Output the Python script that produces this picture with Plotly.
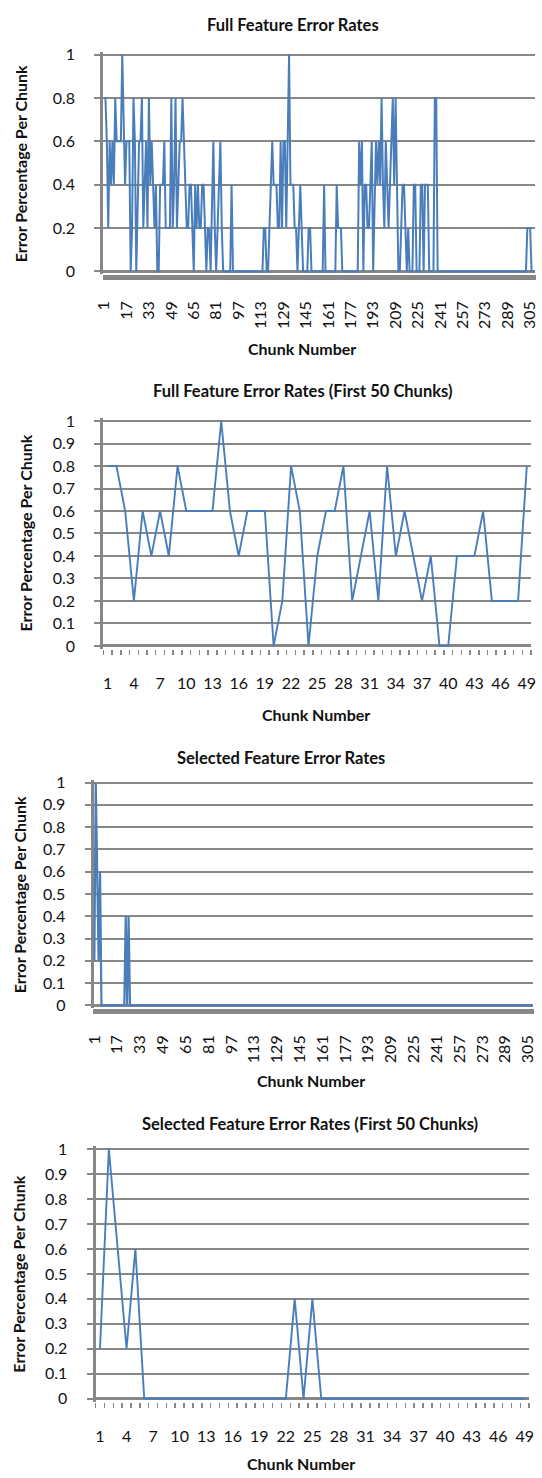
import plotly.graph_objects as go

# ---------------- data ----------------
chunks_all = list(range(1, 309))          # chunk numbers 1..308
chunks_first = list(range(1, 50))         # chunk numbers 1..49

full_rates = [
    0.8, 0.8, 0.6, 0.2, 0.6, 0.4, 0.6, 0.4, 0.8, 0.6,
    0.6, 0.6, 0.6, 1.0, 0.6, 0.4, 0.6, 0.6, 0.6, 0.0,
    0.2, 0.8, 0.6, 0.0, 0.4, 0.6, 0.6, 0.8, 0.2, 0.4,
    0.6, 0.2, 0.8, 0.4, 0.6, 0.4, 0.2, 0.4, 0.0, 0.0,
    0.4, 0.4, 0.4, 0.6, 0.2, 0.2, 0.2, 0.2, 0.8, 0.2,
    0.4, 0.8, 0.2, 0.4, 0.6, 0.6, 0.8, 0.6, 0.4, 0.2,
    0.2, 0.4, 0.4, 0.2, 0.0, 0.4, 0.2, 0.4, 0.2, 0.2,
    0.4, 0.4, 0.2, 0.0, 0.2, 0.2, 0.0, 0.4, 0.6, 0.2,
    0.0, 0.2, 0.4, 0.6, 0.2, 0.0, 0.0, 0.0, 0.0, 0.0,
    0.0, 0.4, 0.0, 0.0, 0.0, 0.0, 0.0, 0.0, 0.0, 0.0,
    0.0, 0.0, 0.0, 0.0, 0.0, 0.0, 0.0, 0.0, 0.0, 0.0,
    0.0, 0.0, 0.0, 0.0, 0.2, 0.2, 0.0, 0.0, 0.2, 0.4,
    0.6, 0.4, 0.4, 0.4, 0.2, 0.2, 0.6, 0.2, 0.6, 0.6,
    0.2, 0.6, 1.0, 0.4, 0.4, 0.4, 0.2, 0.2, 0.0, 0.2,
    0.4, 0.2, 0.0, 0.0, 0.0, 0.0, 0.2, 0.2, 0.0, 0.0,
    0.0, 0.0, 0.0, 0.0, 0.0, 0.0, 0.0, 0.4, 0.0, 0.0,
    0.0, 0.0, 0.0, 0.0, 0.0, 0.0, 0.4, 0.2, 0.2, 0.2,
    0.0, 0.0, 0.0, 0.0, 0.0, 0.0, 0.0, 0.0, 0.0, 0.0,
    0.0, 0.0, 0.6, 0.4, 0.6, 0.0, 0.4, 0.4, 0.2, 0.2,
    0.4, 0.6, 0.0, 0.4, 0.6, 0.4, 0.6, 0.4, 0.8, 0.4,
    0.2, 0.6, 0.4, 0.2, 0.4, 0.6, 0.8, 0.4, 0.8, 0.4,
    0.0, 0.0, 0.2, 0.4, 0.4, 0.2, 0.0, 0.2, 0.0, 0.0,
    0.0, 0.4, 0.4, 0.0, 0.0, 0.0, 0.4, 0.4, 0.0, 0.4,
    0.4, 0.4, 0.0, 0.0, 0.0, 0.0, 0.8, 0.8, 0.0, 0.0,
    0.0, 0.0, 0.0, 0.0, 0.0, 0.0, 0.0, 0.0, 0.0, 0.0,
    0.0, 0.0, 0.0, 0.0, 0.0, 0.0, 0.0, 0.0, 0.0, 0.0,
    0.0, 0.0, 0.0, 0.0, 0.0, 0.0, 0.0, 0.0, 0.0, 0.0,
    0.0, 0.0, 0.0, 0.0, 0.0, 0.0, 0.0, 0.0, 0.0, 0.0,
    0.0, 0.0, 0.0, 0.0, 0.0, 0.0, 0.0, 0.0, 0.0, 0.0,
    0.0, 0.0, 0.0, 0.0, 0.0, 0.0, 0.0, 0.0, 0.0, 0.0,
    0.0, 0.0, 0.2, 0.2, 0.2, 0.0, 0.0, 0.0,
]

full_rates_first50 = [
    0.8, 0.8, 0.6, 0.2, 0.6, 0.4, 0.6, 0.4, 0.8, 0.6,
    0.6, 0.6, 0.6, 1.0, 0.6, 0.4, 0.6, 0.6, 0.6, 0.0,
    0.2, 0.8, 0.6, 0.0, 0.4, 0.6, 0.6, 0.8, 0.2, 0.4,
    0.6, 0.2, 0.8, 0.4, 0.6, 0.4, 0.2, 0.4, 0.0, 0.0,
    0.4, 0.4, 0.4, 0.6, 0.2, 0.2, 0.2, 0.2, 0.8,
]

selected_rates = [
    0.2, 1.0, 0.6, 0.2, 0.6, 0.0, 0.0, 0.0, 0.0, 0.0,
    0.0, 0.0, 0.0, 0.0, 0.0, 0.0, 0.0, 0.0, 0.0, 0.0,
    0.0, 0.0, 0.4, 0.0, 0.4, 0.0, 0.0, 0.0, 0.0, 0.0,
    0.0, 0.0, 0.0, 0.0, 0.0, 0.0, 0.0, 0.0, 0.0, 0.0,
    0.0, 0.0, 0.0, 0.0, 0.0, 0.0, 0.0, 0.0, 0.0, 0.0,
    0.0, 0.0, 0.0, 0.0, 0.0, 0.0, 0.0, 0.0, 0.0, 0.0,
    0.0, 0.0, 0.0, 0.0, 0.0, 0.0, 0.0, 0.0, 0.0, 0.0,
    0.0, 0.0, 0.0, 0.0, 0.0, 0.0, 0.0, 0.0, 0.0, 0.0,
    0.0, 0.0, 0.0, 0.0, 0.0, 0.0, 0.0, 0.0, 0.0, 0.0,
    0.0, 0.0, 0.0, 0.0, 0.0, 0.0, 0.0, 0.0, 0.0, 0.0,
    0.0, 0.0, 0.0, 0.0, 0.0, 0.0, 0.0, 0.0, 0.0, 0.0,
    0.0, 0.0, 0.0, 0.0, 0.0, 0.0, 0.0, 0.0, 0.0, 0.0,
    0.0, 0.0, 0.0, 0.0, 0.0, 0.0, 0.0, 0.0, 0.0, 0.0,
    0.0, 0.0, 0.0, 0.0, 0.0, 0.0, 0.0, 0.0, 0.0, 0.0,
    0.0, 0.0, 0.0, 0.0, 0.0, 0.0, 0.0, 0.0, 0.0, 0.0,
    0.0, 0.0, 0.0, 0.0, 0.0, 0.0, 0.0, 0.0, 0.0, 0.0,
    0.0, 0.0, 0.0, 0.0, 0.0, 0.0, 0.0, 0.0, 0.0, 0.0,
    0.0, 0.0, 0.0, 0.0, 0.0, 0.0, 0.0, 0.0, 0.0, 0.0,
    0.0, 0.0, 0.0, 0.0, 0.0, 0.0, 0.0, 0.0, 0.0, 0.0,
    0.0, 0.0, 0.0, 0.0, 0.0, 0.0, 0.0, 0.0, 0.0, 0.0,
    0.0, 0.0, 0.0, 0.0, 0.0, 0.0, 0.0, 0.0, 0.0, 0.0,
    0.0, 0.0, 0.0, 0.0, 0.0, 0.0, 0.0, 0.0, 0.0, 0.0,
    0.0, 0.0, 0.0, 0.0, 0.0, 0.0, 0.0, 0.0, 0.0, 0.0,
    0.0, 0.0, 0.0, 0.0, 0.0, 0.0, 0.0, 0.0, 0.0, 0.0,
    0.0, 0.0, 0.0, 0.0, 0.0, 0.0, 0.0, 0.0, 0.0, 0.0,
    0.0, 0.0, 0.0, 0.0, 0.0, 0.0, 0.0, 0.0, 0.0, 0.0,
    0.0, 0.0, 0.0, 0.0, 0.0, 0.0, 0.0, 0.0, 0.0, 0.0,
    0.0, 0.0, 0.0, 0.0, 0.0, 0.0, 0.0, 0.0, 0.0, 0.0,
    0.0, 0.0, 0.0, 0.0, 0.0, 0.0, 0.0, 0.0, 0.0, 0.0,
    0.0, 0.0, 0.0, 0.0, 0.0, 0.0, 0.0, 0.0, 0.0, 0.0,
    0.0, 0.0, 0.0, 0.0, 0.0, 0.0, 0.0, 0.0,
]

selected_rates_first50 = [
    0.2, 1.0, 0.6, 0.2, 0.6, 0.0, 0.0, 0.0, 0.0, 0.0,
    0.0, 0.0, 0.0, 0.0, 0.0, 0.0, 0.0, 0.0, 0.0, 0.0,
    0.0, 0.0, 0.4, 0.0, 0.4, 0.0, 0.0, 0.0, 0.0, 0.0,
    0.0, 0.0, 0.0, 0.0, 0.0, 0.0, 0.0, 0.0, 0.0, 0.0,
    0.0, 0.0, 0.0, 0.0, 0.0, 0.0, 0.0, 0.0, 0.0,
]

all_tick_vals = [1, 17, 33, 49, 65, 81, 97, 113, 129, 145, 161, 177, 193,
                 209, 225, 241, 257, 273, 289, 305]
first_tick_vals = [1, 4, 7, 10, 13, 16, 19, 22, 25, 28, 31, 34, 37, 40, 43, 46, 49]

chart_titles = [
    "Full Feature Error Rates",
    "Full Feature Error Rates (First 50 Chunks)",
    "Selected Feature Error Rates",
    "Selected Feature Error Rates (First 50 Chunks)",
]
x_title = "Chunk Number"
y_title = "Error Percentage Per Chunk"

# ---------------- style ----------------
W, H = 542, 1478
FONT = "Lato, 'Open Sans', sans-serif"
TXT = "#111111"
GRID = "#878787"
BLUE = "#4a7ebb"
PAD = 0.012
TICK_SIZE = 16
TITLE_SIZE = 16.5
AXT_SIZE = 16

# layout geometry (pixels): x-left, x-right, y at value 1, y at value 0
panels = [
    dict(xl=96, xr=540, y1=47, y0=266, dtick=0.2, rot=True,
         title=(291, 17), xt=(300, 344), yt=(11, 157)),
    dict(xl=96, xr=536, y1=417, y0=644, dtick=0.1, rot=False,
         title=(301, 387), xt=(315, 713), yt=(16, 530)),
    dict(xl=86, xr=538, y1=782, y0=1007, dtick=0.1, rot=True,
         title=(279, 757), xt=(310, 1083), yt=(10, 895)),
    dict(xl=88, xr=534, y1=1152, y0=1404, dtick=0.1, rot=False,
         title=(309, 1127), xt=(299, 1469), yt=(9, 1278)),
]

series = [
    (chunks_all, full_rates, all_tick_vals, 2.0),
    (chunks_first, full_rates_first50, first_tick_vals, 1.9),
    (chunks_all, selected_rates, all_tick_vals, 2.2),
    (chunks_first, selected_rates_first50, first_tick_vals, 1.9),
]

fig = go.Figure()
layout = dict(
    width=W, height=H,
    margin=dict(l=0, r=0, t=0, b=0),
    paper_bgcolor="white", plot_bgcolor="white",
    showlegend=False,
    font=dict(family=FONT, color=TXT),
    annotations=[],
)

for i, (p, (xs, ys, tv, lw)) in enumerate(zip(panels, series)):
    k = "" if i == 0 else str(i + 1)
    unit = p["y0"] - p["y1"]
    top_px = p["y1"] - PAD * unit
    bot_px = p["y0"] + PAD * unit
    ydom = [1 - bot_px / H, 1 - top_px / H]
    xdom = [p["xl"] / W, p["xr"] / W]
    n = len(xs)

    fig.add_trace(go.Scatter(
        x=xs, y=ys, mode="lines",
        line=dict(color=BLUE, width=lw),
        xaxis="x" + k, yaxis="y" + k,
        hoverinfo="skip", showlegend=False,
    ))

    layout["xaxis" + k] = dict(
        domain=xdom, anchor="y" + k,
        range=[0.5, n + 0.5],
        tickmode="array", tickvals=tv, ticktext=[str(v) for v in tv],
        tickangle=-90 if p["rot"] else 0,
        ticks="", showgrid=False, showline=False, zeroline=False,
        tickfont=dict(family=FONT, size=TICK_SIZE, color=TXT),
        ticklabelstandoff=23,
        minor=dict(tick0=0.5, dtick=1, ticks="outside", ticklen=5,
                   tickwidth=1.5, tickcolor=GRID, showgrid=False),
        fixedrange=True,
    )
    layout["yaxis" + k] = dict(
        domain=ydom, anchor="x" + k,
        range=[-PAD, 1 + PAD],
        tickmode="linear", tick0=0, dtick=p["dtick"],
        ticks="outside", ticklen=6, tickwidth=2, tickcolor=GRID,
        showgrid=True, gridcolor=GRID, gridwidth=2,
        showline=True, linecolor=GRID, linewidth=3,
        zeroline=True, zerolinecolor=GRID, zerolinewidth=3,
        tickfont=dict(family=FONT, size=TICK_SIZE, color=TXT),
        ticklabelstandoff=16,
        layer="below traces",
        fixedrange=True,
    )

    tx, ty = p["title"]
    layout["annotations"].append(dict(
        text="<b>%s</b>" % chart_titles[i], x=tx / W, y=1 - ty / H,
        xref="paper", yref="paper", xanchor="center", yanchor="middle",
        showarrow=False, font=dict(family=FONT, size=TITLE_SIZE, color=TXT)))
    ax_, ay_ = p["xt"]
    layout["annotations"].append(dict(
        text="<b>%s</b>" % x_title, x=ax_ / W, y=1 - ay_ / H,
        xref="paper", yref="paper", xanchor="center", yanchor="middle",
        showarrow=False, font=dict(family=FONT, size=AXT_SIZE, color=TXT)))
    bx, by = p["yt"]
    layout["annotations"].append(dict(
        text="<b>%s</b>" % y_title, x=bx / W, y=1 - by / H, textangle=-90,
        xref="paper", yref="paper", xanchor="center", yanchor="middle",
        showarrow=False, font=dict(family=FONT, size=AXT_SIZE, color=TXT)))

fig.update_layout(**layout)
fig.write_html("out.html",
               config={"displayModeBar": False, "staticPlot": True},
               post_script="document.body.style.margin='0';document.body.style.overflow='hidden';")
